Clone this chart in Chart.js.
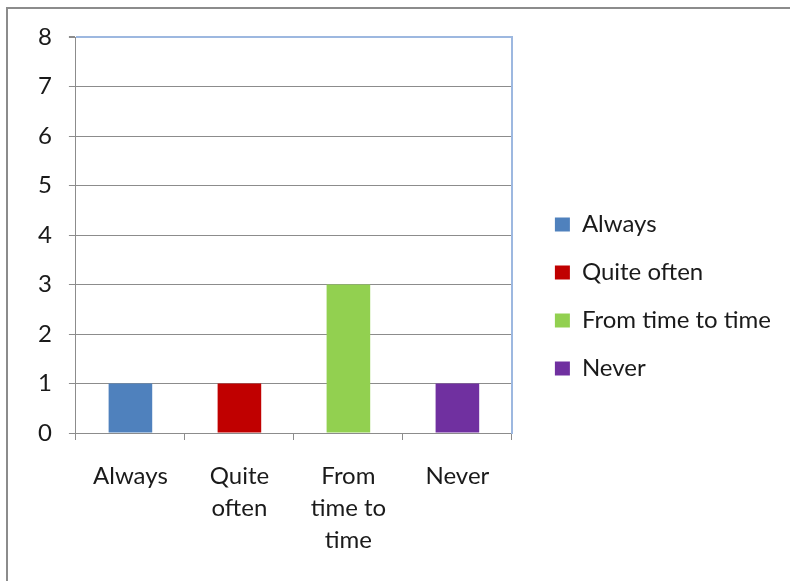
<!DOCTYPE html>
<html>
<head>
<meta charset="utf-8">
<script src="https://cdn.jsdelivr.net/npm/chart.js@4.4.0/dist/chart.umd.min.js"></script>
<style>
  html, body { margin: 0; padding: 0; background: #fff; overflow: hidden; }
  .frame {
    position: absolute; left: 6px; top: 7px; width: 790px; height: 581px;
    border-left: 2px solid #8c8c8c; border-top: 2px solid #8c8c8c;
  }
  #freq { position: absolute; left: 0; top: 0; }
</style>
</head>
<body>
<div class="frame"></div>
<canvas id="freq" width="790" height="581"></canvas>
<script>
// answers and how many times each was picked
const categories = ["Always", "Quite often", "From time to time", "Never"];
const axisLabels = ["Always", ["Quite", "often"], ["From", "time to", "time"], "Never"];
const counts = [1, 1, 3, 1];
const barColors = ["#4F81BD", "#C00000", "#92D050", "#7030A0"];
const yMin = 0, yMax = 8, yStep = 1;

const gridGray = "#8c8c8c";
const plotBlue = "#9db8e0";
const textColor = "#1a1a1a";
const baseFont = { family: "Lato, 'Open Sans', sans-serif", size: 24, lineHeight: 32 / 24 };

new Chart(document.getElementById("freq").getContext("2d"), {
    type: "bar",
    data: {
        labels: axisLabels,
        datasets: [{
            data: counts,
            backgroundColor: barColors,
            borderWidth: 0,
            barPercentage: 0.4,
            categoryPercentage: 1.0
        }]
    },
    options: {
        responsive: false,
        animation: false,
        layout: { padding: { left: 21, top: 37, right: 9, bottom: 25 } },
        plugins: {
            tooltip: { enabled: false },
            legend: {
                position: "right",
                align: "center",
                maxWidth: 320,
                labels: {
                    boxWidth: 15,
                    boxHeight: 14,
                    padding: 24,
                    color: textColor,
                    font: baseFont,
                    // one entry per answer instead of per dataset
                    generateLabels: () => categories.map((c, i) => ({
                        text: c,
                        fillStyle: barColors[i],
                        strokeStyle: barColors[i],
                        lineWidth: 0,
                        fontColor: textColor,
                        hidden: false,
                        index: i
                    }))
                }
            }
        },
        scales: {
            x: {
                grid: {
                    offset: true,
                    drawOnChartArea: false,
                    color: gridGray,
                    tickLength: 7
                },
                border: { color: gridGray, width: 1 },
                ticks: { color: textColor, font: baseFont, padding: 20, maxRotation: 0, autoSkip: false },
                // keep the three-line labels from pushing the plot up
                afterFit: s => { s.height = 123; }
            },
            y: {
                min: yMin,
                max: yMax,
                grid: {
                    // top line doubles as the plot frame
                    color: ctx => ctx.tick && ctx.tick.value === yMax ? plotBlue : gridGray,
                    lineWidth: ctx => ctx.tick && ctx.tick.value === yMax ? 2 : 1,
                    tickColor: gridGray,
                    tickLength: 7
                },
                border: { color: gridGray, width: 1 },
                ticks: { stepSize: yStep, color: textColor, font: baseFont, padding: 17 }
            },
            frameRight: {
                position: "right",
                display: true,
                grid: { display: false },
                ticks: { display: false },
                border: { display: true, color: plotBlue, width: 2 },
                afterFit: s => { s.width = 19; }
            }
        }
    }
});
</script>
</body>
</html>
